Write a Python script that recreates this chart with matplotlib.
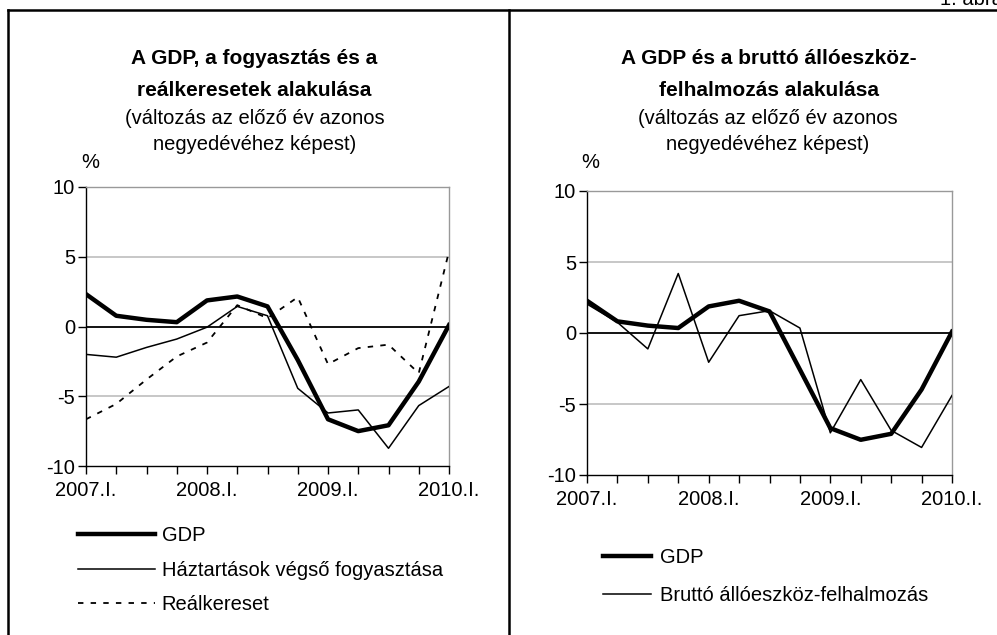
import matplotlib
matplotlib.use("Agg")
import matplotlib.pyplot as plt
from matplotlib.lines import Line2D
import matplotlib.transforms as mtrans

plt.rcParams['font.family'] = ['Liberation Sans', 'DejaVu Sans']

quarters = list(range(13))
xtick_pos = [0, 4, 8, 12]
xtick_labels = ["2007.I.", "2008.I.", "2009.I.", "2010.I."]
yticks = [-10, -5, 0, 5, 10]

gdp_left = [2.32, 0.77, 0.48, 0.31, 1.87, 2.15, 1.44, -2.4, -6.65, -7.5, -7.08, -3.95, 0.1]
haztartas = [-2.0, -2.2, -1.5, -0.9, -0.05, 1.44, 0.77, -4.43, -6.2, -5.98, -8.73, -5.67, -4.3]
realkereset = [-6.65, -5.55, -3.8, -2.15, -1.15, 1.53, 0.6, 2.1, -2.7, -1.55, -1.3, -3.35, 5.38]

gdp_right = [2.27, 0.82, 0.52, 0.35, 1.87, 2.27, 1.52, -2.58, -6.7, -7.52, -7.1, -3.98, 0.09]
beruhazas = [2.04, 0.75, -1.12, 4.19, -2.06, 1.22, 1.57, 0.35, -7.03, -3.28, -6.86, -8.06, -4.4]

W, H = 997, 635
fig = plt.figure(figsize=(W / 100, H / 100), dpi=100)

FS = 14.5

def px_axes(x0, x1, ytop, ybot):
    return fig.add_axes([x0 / W, 1 - ybot / H, (x1 - x0) / W, (ybot - ytop) / H])

def style(ax):
    ax.set_xlim(0, 12)
    ax.set_ylim(-10, 10)
    ax.set_yticks(yticks)
    ax.set_yticklabels([str(v) for v in yticks])
    ax.set_xticks(quarters)
    ax.set_xticklabels(["" for _ in quarters])
    off = ax.transData + mtrans.ScaledTranslation(0, -11 / 72, fig.dpi_scale_trans)
    for p, lab in zip(xtick_pos, xtick_labels):
        ax.text(p, -10, lab, transform=off, ha='center', va='top',
                fontsize=FS, clip_on=False)
    for s in ['top', 'right']:
        ax.spines[s].set_color('#999999')
        ax.spines[s].set_linewidth(1.0)
    for s in ['left', 'bottom']:
        ax.spines[s].set_color('black')
        ax.spines[s].set_linewidth(1.0)
    ax.tick_params(axis='y', direction='out', length=6, width=1, pad=2, labelsize=FS)
    ax.tick_params(axis='x', direction='out', length=6, width=1, pad=3, labelsize=FS)
    for v in [-5, 5]:
        ax.axhline(v, color='#bdbdbd', lw=1.2, zorder=1)
    ax.axhline(0, color='black', lw=1.3, zorder=2)

# Left chart
ax1 = px_axes(86, 449, 187, 466)
style(ax1)
l1, = ax1.plot(quarters, gdp_left, color='black', lw=3.2, zorder=5, solid_joinstyle='round')
l2, = ax1.plot(quarters, haztartas, color='black', lw=1.1, zorder=4)
l3, = ax1.plot(quarters, realkereset, color='black', lw=1.3, ls=(0, (3, 4)), zorder=4)

# Right chart
ax2 = px_axes(587, 952, 191, 475)
style(ax2)
r1, = ax2.plot(quarters, gdp_right, color='black', lw=3.2, zorder=5, solid_joinstyle='round')
r2, = ax2.plot(quarters, beruhazas, color='black', lw=1.1, zorder=4)

def ftext(x, y, s, **kw):
    fig.text(x / W, 1 - y / H, s, **kw)

# Titles
ftext(254, 58, "A GDP, a fogyasztás és a", ha='center', va='center', fontsize=FS + 0.5, fontweight='bold')
ftext(254, 90, "reálkeresetek alakulása", ha='center', va='center', fontsize=FS + 0.5, fontweight='bold')
ftext(255, 118, "(változás az előző év azonos", ha='center', va='center', fontsize=FS)
ftext(255, 145, "negyedévéhez képest)", ha='center', va='center', fontsize=FS)
ftext(90, 163, "%", ha='center', va='center', fontsize=FS)

ftext(769, 58, "A GDP és a bruttó állóeszköz-", ha='center', va='center', fontsize=FS + 0.5, fontweight='bold')
ftext(769, 90, "felhalmozás alakulása", ha='center', va='center', fontsize=FS + 0.5, fontweight='bold')
ftext(768, 118, "(változás az előző év azonos", ha='center', va='center', fontsize=FS)
ftext(768, 145, "negyedévéhez képest)", ha='center', va='center', fontsize=FS)
ftext(590, 163, "%", ha='center', va='center', fontsize=FS)

# Figure label (partly cut at the top edge, as in the reference)
ftext(1003, 5, "1. ábra", ha='right', va='baseline', fontsize=FS)

# Frame lines
frame_lw = 1.8
fig.add_artist(Line2D([8 / W, 1.0], [1 - 10 / H, 1 - 10 / H], color='black', lw=frame_lw, transform=fig.transFigure))
fig.add_artist(Line2D([8 / W, 8 / W], [0, 1 - 10 / H], color='black', lw=frame_lw, transform=fig.transFigure))
fig.add_artist(Line2D([509 / W, 509 / W], [0, 1 - 10 / H], color='black', lw=frame_lw, transform=fig.transFigure))

# Legends
fig.legend([l1, l2, l3], ["GDP", "Háztartások végső fogyasztása", "Reálkereset"],
           loc='upper left', bbox_to_anchor=(72 / W, 1 - 520 / H),
           frameon=False, fontsize=FS, handlelength=3.8, handletextpad=0.35,
           labelspacing=0.78, borderaxespad=0, borderpad=0.3)
fig.legend([r1, r2], ["GDP", "Bruttó állóeszköz-felhalmozás"],
           loc='upper left', bbox_to_anchor=(597 / W, 1 - 542 / H),
           frameon=False, fontsize=FS, handlelength=2.4, handletextpad=0.45,
           labelspacing=0.95, borderaxespad=0, borderpad=0.3)

fig.savefig("out.png", dpi=100)
